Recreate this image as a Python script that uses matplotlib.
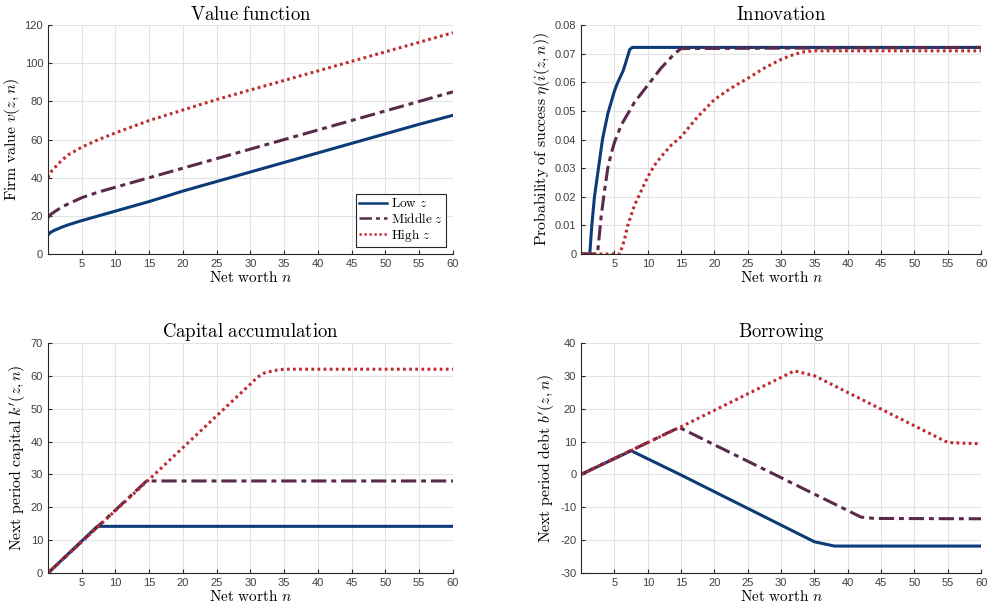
import numpy as np
import matplotlib
matplotlib.use("Agg")
import matplotlib.pyplot as plt

plt.rcParams['mathtext.fontset'] = 'cm'
plt.rcParams['font.family'] = ['Liberation Sans', 'DejaVu Sans']

# --- data ---
# Value function
v_n = [0, 0.2, 0.5, 1, 2, 3, 5, 7.5, 10, 15, 20, 25, 30, 35, 40, 45, 50, 55, 60]
v_low = [10, 10.8, 11.6, 12.5, 14, 15.3, 17.5, 20, 22.5, 27.5, 33, 38, 43, 48, 53, 58, 63, 68, 72.7]
v_mid = [19, 20, 21, 22.2, 24.5, 26.3, 29.5, 32.5, 35, 40, 45, 50, 55, 60, 65, 70, 75, 80, 85]
v_high = [40, 41.8, 43.3, 45.2, 49, 52, 56, 60, 63.5, 70, 75.5, 81, 86, 91, 96, 101, 106, 111, 116]

# Innovation
i_n_low = [0, 1.3, 1.6, 2.0, 2.6, 3.2, 4.0, 5.0, 5.5, 6.3, 7.3, 7.7, 60]
i_low = [0, 0, 0.01, 0.02, 0.03, 0.04, 0.049, 0.057, 0.060, 0.064, 0.0715, 0.0722, 0.0722]
i_n_mid = [0, 2.45, 3, 3.5, 4, 4.5, 5, 6, 7, 8, 9, 10, 11, 12, 13, 14, 15, 60]
i_mid = [0, 0, 0.013, 0.022, 0.03, 0.035, 0.039, 0.045, 0.049, 0.053, 0.056, 0.059,
         0.062, 0.065, 0.0675, 0.070, 0.0718, 0.0722]
i_n_high = [0, 5.8, 6.5, 7, 8, 9, 10, 11, 12, 13.5, 15, 17.5, 20, 22.5, 25, 27.5, 30, 32, 33.5, 35, 60]
i_high = [0, 0, 0.005, 0.01, 0.017, 0.022, 0.027, 0.031, 0.034, 0.038, 0.041, 0.048, 0.054,
          0.058, 0.0614, 0.065, 0.068, 0.0698, 0.0707, 0.071, 0.071]

# Capital accumulation
k_n_low = [0, 7.3, 60]
k_low = [0, 14.2, 14.2]
k_n_mid = [0, 14.6, 60]
k_mid = [0, 28, 28]
k_n_high = [0, 15, 30, 31, 32, 33.5, 35, 60]
k_high = [0, 28.5, 57.5, 59.5, 60.8, 61.6, 62, 62]

# Borrowing
b_n_low = [0, 7.5, 15, 35, 38, 60]
b_low = [0, 7.2, -0.2, -20.5, -21.8, -21.8]
b_n_mid = [0, 14.7, 42, 44, 60]
b_mid = [0, 14.3, -13, -13.4, -13.5]
b_n_high = [0, 15, 32, 35, 55, 60]
b_high = [0, 14.5, 31.5, 30, 9.7, 9.3]

labels = [r'$\mathrm{Low}\ z$', r'$\mathrm{Middle}\ z$', r'$\mathrm{High}\ z$']
colors = ['#0c3c78', '#5a2a4a', '#c0282d']
styles = ['-', (0, (5, 1.6, 1.6, 1.6)), (0, (0.9, 1.1))]
xticks = [5, 10, 15, 20, 25, 30, 35, 40, 45, 50, 55, 60]

fig = plt.figure(figsize=(9.9, 6.12), dpi=100)
positions = [
    [0.0485, 0.585, 0.409, 0.374],
    [0.587, 0.585, 0.404, 0.374],
    [0.0485, 0.0637, 0.409, 0.376],
    [0.587, 0.0637, 0.404, 0.376],
]

panels = [
    (r'$\mathrm{Value\ function}$', r'$\mathrm{Firm\ value}\ v(z,n)$',
     [(v_n, v_low), (v_n, v_mid), (v_n, v_high)], (0, 120), np.arange(0, 121, 20)),
    (r'$\mathrm{Innovation}$', r'$\mathrm{Probability\ of\ success}\ \eta(i(z,n))$',
     [(i_n_low, i_low), (i_n_mid, i_mid), (i_n_high, i_high)], (0, 0.08), np.arange(0, 0.081, 0.01)),
    (r'$\mathrm{Capital\ accumulation}$', r"$\mathrm{Next\ period\ capital}\ k'(z,n)$",
     [(k_n_low, k_low), (k_n_mid, k_mid), (k_n_high, k_high)], (0, 70), np.arange(0, 71, 10)),
    (r'$\mathrm{Borrowing}$', r"$\mathrm{Next\ period\ debt}\ b'(z,n)$",
     [(b_n_low, b_low), (b_n_mid, b_mid), (b_n_high, b_high)], (-30, 40), np.arange(-30, 41, 10)),
]

for i, (pos, (title, ylab, series, ylim, yticks)) in enumerate(zip(positions, panels)):
    ax = fig.add_axes(pos)
    for (xs, ys), c, ls, lab in zip(series, colors, styles, labels):
        ax.plot(xs, ys, color=c, linestyle=ls, linewidth=2.2, label=lab)
    ax.set_xlim(0, 60)
    ax.set_ylim(*ylim)
    ax.set_xticks(xticks)
    ax.set_yticks(yticks)
    if ylim[1] < 1:
        ax.set_yticklabels(['0'] + ['%.2f' % t for t in yticks[1:]])
    else:
        ax.set_yticklabels(['%d' % t for t in yticks])
    ax.grid(True, color='#e3e3e3', linewidth=0.8)
    ax.set_axisbelow(True)
    for s in ['top', 'right']:
        ax.spines[s].set_visible(False)
    for s in ['left', 'bottom']:
        ax.spines[s].set_color('#262626')
        ax.spines[s].set_linewidth(0.8)
    ax.tick_params(direction='in', length=3, labelsize=8, colors='#262626',
                   labelcolor='#404040')
    ax.set_title(title, fontsize=13.5, pad=4)
    ax.set_xlabel(r'$\mathrm{Net\ worth}\ n$', fontsize=11, labelpad=1)
    ax.set_ylabel(ylab, fontsize=11.3, labelpad=2)
    if i == 0:
        leg = ax.legend(loc='lower right', fontsize=9.5, fancybox=False, framealpha=1,
                        edgecolor='#262626', borderaxespad=0.5, handlelength=2.1,
                        labelspacing=0.1, borderpad=0.25, handletextpad=0.3)
        leg.get_frame().set_linewidth(0.8)
        for h in leg.get_lines():
            h.set_linewidth(1.8)

fig.savefig('out.png', dpi=100)
